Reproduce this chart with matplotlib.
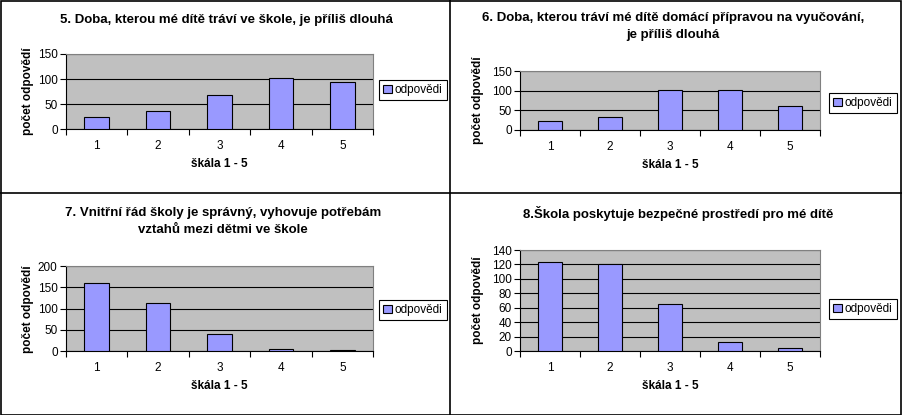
import matplotlib
matplotlib.use("Agg")
import matplotlib.pyplot as plt
from matplotlib.patches import Patch, Rectangle
from matplotlib.lines import Line2D

plt.rcParams['font.family'] = ['Liberation Sans', 'DejaVu Sans']

categories = ["1", "2", "3", "4", "5"]
titles = [
    "5. Doba, kterou mé dítě tráví ve škole, je příliš dlouhá",
    "6. Doba, kterou tráví mé dítě domácí přípravou na vyučování,\nje příliš dlouhá",
    "7. Vnitřní řád školy je správný, vyhovuje potřebám\nvztahů mezi dětmi ve škole",
    "8.Škola poskytuje bezpečné prostředí pro mé dítě",
]
q5_values = [24, 36, 68, 102, 94]
q6_values = [24, 34, 102, 102, 61]
q7_values = [160, 113, 40, 5, 2]
q8_values = [124, 120, 65, 12, 4]
series_name = "odpovědi"
y_label = "počet odpovědí"
x_label = "škála 1 - 5"

W, H = 902, 415
fig = plt.figure(figsize=(W / 100, H / 100), dpi=100)
fig.patch.set_facecolor("white")

def frac_rect(x0, y0, x1, y1):
    return [x0 / W, 1 - y1 / H, (x1 - x0) / W, (y1 - y0) / H]

panels = [
    dict(vals=q5_values, title=titles[0], plot=(66, 54, 373, 129), ymax=150, ystep=50,
         title_xy=(226, 20), xl_xy=(219, 164), yl_xy=(28, 91), leg=(379, 90)),
    dict(vals=q6_values, title=titles[1], plot=(520, 71, 820, 130), ymax=150, ystep=50,
         title_xy=(673, 26.5), xl_xy=(670, 165), yl_xy=(478, 100), leg=(829, 103)),
    dict(vals=q7_values, title=titles[2], plot=(66, 266, 373, 351), ymax=200, ystep=50,
         title_xy=(223, 221.5), xl_xy=(219, 386), yl_xy=(28, 309), leg=(379, 310)),
    dict(vals=q8_values, title=titles[3], plot=(520, 250, 820, 351), ymax=140, ystep=20,
         title_xy=(678, 213), xl_xy=(670, 386), yl_xy=(478, 300), leg=(829, 309)),
]

bar_color = "#9999FF"
x = list(range(1, len(categories) + 1))

for p in panels:
    ax = fig.add_axes(frac_rect(*p["plot"]))
    ax.set_facecolor("#C0C0C0")
    ax.bar(x, p["vals"], width=0.4, color=bar_color, edgecolor="black", linewidth=0.8, zorder=3)
    ax.set_xlim(0.5, 5.5)
    ax.set_ylim(0, p["ymax"])
    ax.set_yticks(range(0, p["ymax"] + 1, p["ystep"]))
    ax.yaxis.grid(True, color="black", linewidth=0.8, zorder=1)
    ax.set_axisbelow(True)
    ax.set_xticks(x)
    ax.set_xticklabels(categories)
    ax.set_xticks([i + 0.5 for i in range(0, 6)], minor=True)
    ax.tick_params(axis="x", which="major", length=0, pad=8, labelsize=8.5)
    ax.tick_params(axis="x", which="minor", length=4, direction="out", width=0.8)
    ax.tick_params(axis="y", length=4, direction="out", width=0.8, labelsize=8.5, pad=2)
    for s in ["top", "right"]:
        ax.spines[s].set_color("#808080")
        ax.spines[s].set_linewidth(0.8)
    for s in ["left", "bottom"]:
        ax.spines[s].set_color("black")
        ax.spines[s].set_linewidth(0.8)
    fig.text(p["title_xy"][0] / W, 1 - p["title_xy"][1] / H, p["title"], ha="center", va="center",
             fontsize=9.5, fontweight="bold", linespacing=1.45)
    fig.text(p["xl_xy"][0] / W, 1 - p["xl_xy"][1] / H, x_label, ha="center", va="center",
             fontsize=8.5, fontweight="bold")
    fig.text(p["yl_xy"][0] / W, 1 - p["yl_xy"][1] / H, y_label, ha="center", va="center",
             fontsize=8.5, fontweight="bold", rotation=90)
    handle = Patch(facecolor=bar_color, edgecolor="black", linewidth=0.8)
    leg = ax.legend([handle], [series_name], loc="center left",
                    bbox_to_anchor=(p["leg"][0] / W, 1 - p["leg"][1] / H),
                    bbox_transform=fig.transFigure, fontsize=8.5, frameon=True,
                    fancybox=False, edgecolor="black", framealpha=1, borderpad=0.35,
                    handlelength=0.75, handleheight=0.75, handletextpad=0.25,
                    borderaxespad=0)
    leg.get_frame().set_linewidth(0.8)

# panel borders
lw = 1.2
fig.add_artist(Line2D([450 / W, 450 / W], [0, 1], color="black", linewidth=lw))
fig.add_artist(Line2D([0, 1], [1 - 193 / H, 1 - 193 / H], color="black", linewidth=lw))
fig.add_artist(Rectangle((0.5 / W, 0.5 / H), 1 - 1.5 / W, 1 - 1.5 / H, fill=False,
                         edgecolor="black", linewidth=lw, transform=fig.transFigure))

fig.savefig("out.png", dpi=100, facecolor="white")
